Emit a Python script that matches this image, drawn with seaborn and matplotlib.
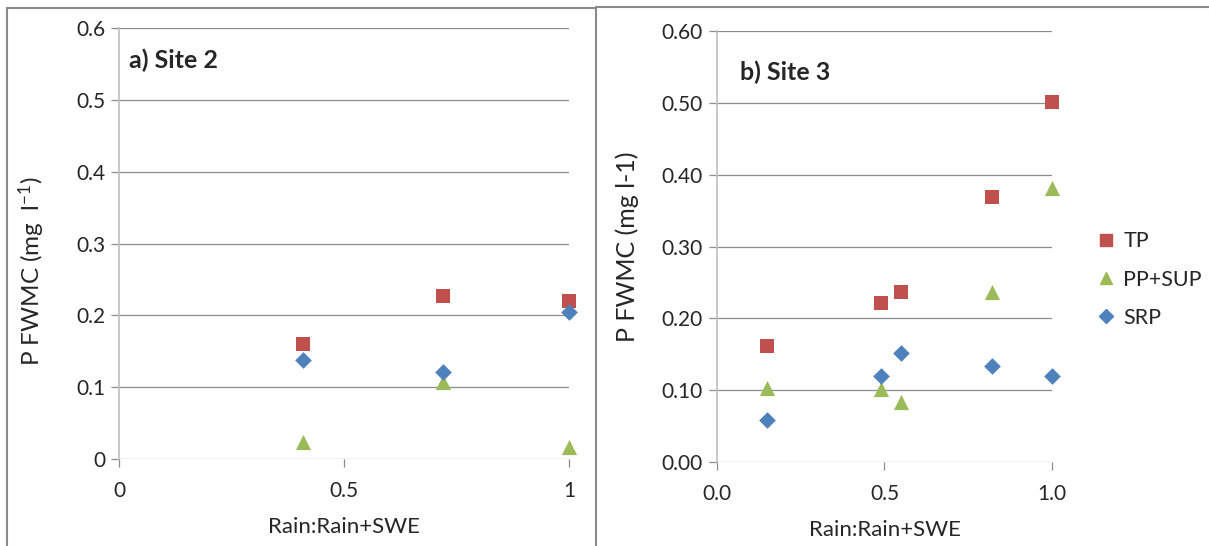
import matplotlib
matplotlib.use("Agg")
import matplotlib.pyplot as plt
from matplotlib.lines import Line2D
import seaborn as sns
import pandas as pd

# Site 2 flow-weighted mean concentrations
site2_ratio = [0.41, 0.72, 1.0]
site2_tp = [0.160, 0.227, 0.220]
site2_ppsup = [0.024, 0.107, 0.017]
site2_srp = [0.138, 0.121, 0.205]

# Site 3 flow-weighted mean concentrations
site3_ratio = [0.15, 0.49, 0.55, 0.82, 1.0]
site3_tp = [0.162, 0.222, 0.236, 0.369, 0.501]
site3_ppsup = [0.103, 0.101, 0.084, 0.236, 0.382]
site3_srp = [0.059, 0.120, 0.152, 0.133, 0.120]

series_names = ["TP", "PP+SUP", "SRP"]
colors = {"TP": "#C0504D", "PP+SUP": "#9BBB59", "SRP": "#4F81BD"}
markers = {"TP": "s", "PP+SUP": "^", "SRP": "D"}
sizes = {"TP": 115, "PP+SUP": 120, "SRP": 72}


def long_frame(ratio, tp, ppsup, srp):
    rows = []
    for name, vals in zip(series_names, [tp, ppsup, srp]):
        for r, v in zip(ratio, vals):
            rows.append({"ratio": r, "value": v, "series": name})
    return pd.DataFrame(rows)


df2 = long_frame(site2_ratio, site2_tp, site2_ppsup, site2_srp)
df3 = long_frame(site3_ratio, site3_tp, site3_ppsup, site3_srp)

sns.set_theme(style="white")
plt.rcParams["font.family"] = ["Lato", "DejaVu Sans"]
plt.rcParams["mathtext.default"] = "regular"

fig = plt.figure(figsize=(12.09, 5.46), dpi=100)
ax1 = fig.add_axes([0.0984, 0.1593, 0.3722, 0.7894])
ax2 = fig.add_axes([0.5930, 0.1538, 0.2771, 0.7894])

grid_col = "#8C8C8C"
spine_col = "#BFBFBF"


def draw(ax, df):
    for name in series_names:
        sub = df[df["series"] == name]
        sns.scatterplot(data=sub, x="ratio", y="value", ax=ax,
                        color=colors[name], marker=markers[name],
                        s=sizes[name], linewidth=0, clip_on=False,
                        label=name, zorder=3)
    ax.set_xlim(0, 1)
    ax.set_ylim(0, 0.6)
    ax.yaxis.grid(True, color=grid_col, linewidth=0.9)
    ax.xaxis.grid(False)
    for side in ["top", "right", "bottom"]:
        ax.spines[side].set_visible(False)
    ax.spines["left"].set_color(spine_col)
    ax.spines["left"].set_linewidth(1.2)
    ax.tick_params(axis="y", which="both", left=True, length=6,
                   color=grid_col, labelsize=15, pad=4, width=0.9)
    ax.tick_params(axis="x", which="both", bottom=True, length=6,
                   color=grid_col, labelsize=15, pad=10, width=0.9)
    ax.set_xlabel("Rain:Rain+SWE", fontsize=16, labelpad=11)
    if ax.get_legend():
        ax.get_legend().remove()


draw(ax1, df2)
draw(ax2, df3)

ax1.set_xticks([0, 0.5, 1])
ax1.set_xticklabels(["0", "0.5", "1"])
ax1.set_yticks([0, 0.1, 0.2, 0.3, 0.4, 0.5, 0.6])
ax1.set_yticklabels(["0", "0.1", "0.2", "0.3", "0.4", "0.5", "0.6"])
ax1.set_ylabel("P FWMC (mg  l$^{-1}$)", fontsize=17.5)
ax1.yaxis.set_label_coords(-0.16, 0.435)
ax1.text(0.022, 0.925, "a) Site 2", transform=ax1.transAxes,
         fontsize=18, fontweight="bold", va="center", ha="left")

ax2.set_xticks([0, 0.5, 1])
ax2.set_xticklabels(["0.0", "0.5", "1.0"])
ax2.set_yticks([0, 0.1, 0.2, 0.3, 0.4, 0.5, 0.6])
ax2.set_yticklabels(["0.00", "0.10", "0.20", "0.30", "0.40", "0.50", "0.60"])
ax2.set_ylabel("P FWMC (mg l-1)", fontsize=18)
ax2.yaxis.set_label_coords(-0.232, 0.50)
ax2.text(0.07, 0.905, "b) Site 3", transform=ax2.transAxes,
         fontsize=18, fontweight="bold", va="center", ha="left")

handles = [Line2D([], [], linestyle="none", marker=markers[n], color=colors[n],
                  markersize=9 if n != "SRP" else 7.5) for n in series_names]
fig.legend(handles, series_names, loc="center left",
           bbox_to_anchor=(0.890, 0.488), frameon=False, fontsize=15.5,
           labelspacing=0.85, handletextpad=0.3, handlelength=1.0)

# panel frames
frame = "#8A8A8A"
fig.add_artist(Line2D([7 / 1209, 7 / 1209], [0, 1 - 8 / 546], transform=fig.transFigure, color=frame, lw=1.5))
fig.add_artist(Line2D([7 / 1209, 596 / 1209], [1 - 8 / 546, 1 - 8 / 546], transform=fig.transFigure, color=frame, lw=1.5))
fig.add_artist(Line2D([596 / 1209, 596 / 1209], [0, 1 - 8 / 546], transform=fig.transFigure, color=frame, lw=1.5))
fig.add_artist(Line2D([596 / 1209, 1], [1 - 7 / 546, 1 - 7 / 546], transform=fig.transFigure, color=frame, lw=1.5))

fig.savefig("out.png", dpi=100)
